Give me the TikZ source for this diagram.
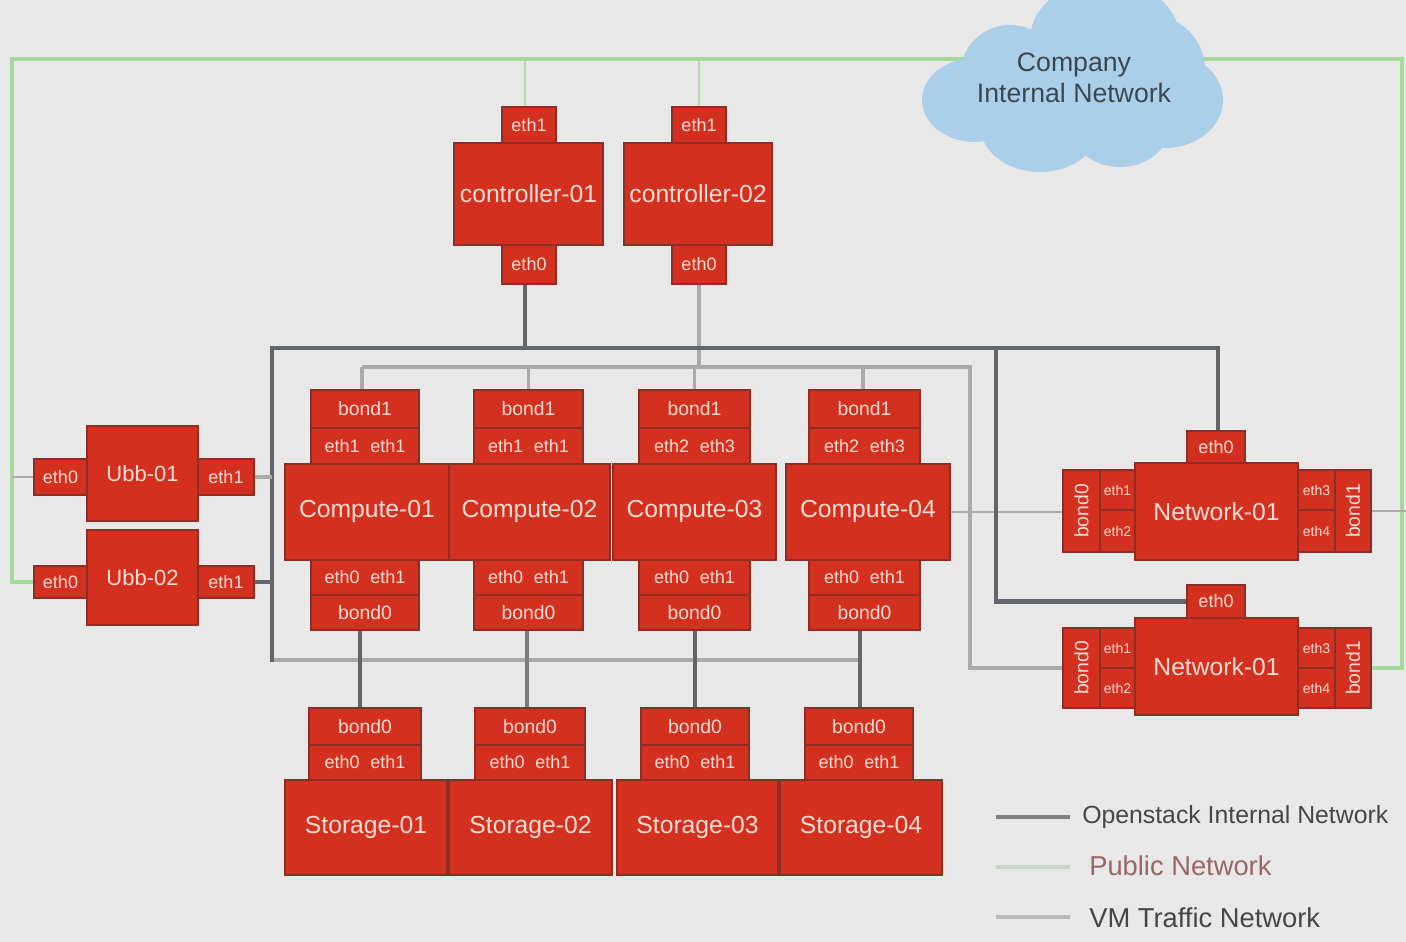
\documentclass[tikz,border=0pt]{standalone}
\usepackage{fontspec}
\setmainfont{Liberation Sans}
\definecolor{bgc}{HTML}{E8E8E8}
\definecolor{redf}{HTML}{D4301F}
\definecolor{redb}{HTML}{8C2E26}
\definecolor{txtc}{HTML}{FFDDD2}
\definecolor{intc}{HTML}{62666A}
\definecolor{vmc}{HTML}{A9ABAB}
\definecolor{pubc}{HTML}{A4D99A}
\definecolor{cloudc}{HTML}{ABCFE8}
\tikzset{
  redcell/.style={draw=redb,fill=redf,line width=2pt,inner sep=0pt,outer sep=0pt,text=txtc,align=center},
  mainfont/.style={font=\fontsize{18.5}{20}\selectfont},
  ubbfont/.style={font=\fontsize{16.5}{18}\selectfont},
  midfont/.style={font=\fontsize{14.5}{16}\selectfont},
  portfont/.style={font=\fontsize{13.5}{16}\selectfont},
  vertfont/.style={font=\fontsize{14.5}{16}\selectfont},
  tinyfont/.style={font=\fontsize{10.5}{12}\selectfont},
  internal/.style={draw=intc,line width=3.4pt},
  vmtraffic/.style={draw=vmc,line width=2.8pt},
  public/.style={draw=pubc,line width=3.4pt},
  legendtext/.style={anchor=west,inner sep=0pt,font=\fontsize{20.5}{22}\selectfont},
}
\newcommand{\rbox}[7][]{%
  \pgfmathsetmacro{\bw}{(#5-#3)*0.75}%
  \pgfmathsetmacro{\bh}{(#6-#4)*0.75}%
  \pgfmathsetmacro{\bx}{(#5+#3)/2}%
  \pgfmathsetmacro{\by}{(#6+#4)/2}%
  \node[redcell,minimum width=\bw pt,minimum height=\bh pt,#1] (#2) at (\bx,\by) {#7};%
}
\newcommand{\twoeth}[2]{#1\hspace{8pt}#2}
\newcommand{\raised}[1]{\raisebox{5pt}{#1}}
\begin{document}
\begin{tikzpicture}[x=0.75pt,y=-0.75pt]
\useasboundingbox (0,0) rectangle (1406,942);
\clip (0,0) rectangle (1406,942);
\fill[bgc] (0,0) rectangle (1406,942);

% reference coordinates of the buses and drops
\coordinate (pubTL) at (12,59);
\coordinate (pubTR) at (1402,59);
\coordinate (busTL) at (272,348);
\coordinate (busTR) at (1218,348);
\coordinate (busBL) at (272,660);
\coordinate (busBR) at (860,660);
\coordinate (busM) at (996,348);
\coordinate (vmTL) at (362,367);
\coordinate (vmTR) at (970,367);
\coordinate (edgeR) at (1406,510);
\coordinate (dropA) at (360,660);
\coordinate (dropB) at (527,660);
\coordinate (dropC) at (695,660);
\coordinate (dropD) at (860,660);
\coordinate (ctlX) at (525,200);
\coordinate (vmD) at (863,367);

% connectors are defined after nodes; nodes are drawn on a later layer
\pgfdeclarelayer{boxes}
\pgfsetlayers{main,boxes}
\begin{pgfonlayer}{boxes}
% controllers
\rbox[mainfont]{ctlA}{454}{143}{603}{245}{controller-01}
\rbox[portfont]{ctlAt}{502}{107}{556}{143}{eth1}
\rbox[portfont]{ctlAb}{502}{245}{556}{284}{eth0}
\rbox[mainfont]{ctlB}{624}{143}{772}{245}{controller-02}
\rbox[portfont]{ctlBt}{672}{107}{726}{143}{eth1}
\rbox[portfont]{ctlBb}{672}{245}{726}{284}{eth0}

% UBB
\rbox[ubbfont]{ubbA}{87}{426}{198}{521}{Ubb-01}
\rbox[portfont]{ubbAl}{34}{459}{87}{495}{eth0}
\rbox[portfont]{ubbAr}{198}{459}{254}{495}{eth1}
\rbox[ubbfont]{ubbB}{87}{530}{198}{625}{Ubb-02}
\rbox[portfont]{ubbBl}{34}{566}{87}{598}{eth0}
\rbox[portfont]{ubbBr}{198}{566}{254}{598}{eth1}

% compute
\rbox[midfont]{coAbt}{311}{390}{419}{428}{bond1}
\rbox[portfont]{coAe}{311}{428}{419}{464}{\twoeth{eth1}{eth1}}
\rbox[portfont]{coAg}{311}{560}{419}{595}{\twoeth{eth0}{eth1}}
\rbox[midfont]{coAbb}{311}{595}{419}{630}{bond0}
\rbox[mainfont]{coA}{285}{464}{449}{560}{\raised{Compute-01}}

\rbox[midfont]{coBbt}{474}{390}{583}{428}{bond1}
\rbox[portfont]{coBe}{474}{428}{583}{464}{\twoeth{eth1}{eth1}}
\rbox[portfont]{coBg}{474}{560}{583}{595}{\twoeth{eth0}{eth1}}
\rbox[midfont]{coBbb}{474}{595}{583}{630}{bond0}
\rbox[mainfont]{coB}{449}{464}{610}{560}{\raised{Compute-02}}

\rbox[midfont]{coCbt}{639}{390}{750}{428}{bond1}
\rbox[portfont]{coCe}{639}{428}{750}{464}{\twoeth{eth2}{eth3}}
\rbox[portfont]{coCg}{639}{560}{750}{595}{\twoeth{eth0}{eth1}}
\rbox[midfont]{coCbb}{639}{595}{750}{630}{bond0}
\rbox[mainfont]{coC}{613}{464}{776}{560}{\raised{Compute-03}}

\rbox[midfont]{coDbt}{809}{390}{920}{428}{bond1}
\rbox[portfont]{coDe}{809}{428}{920}{464}{\twoeth{eth2}{eth3}}
\rbox[portfont]{coDg}{809}{560}{920}{595}{\twoeth{eth0}{eth1}}
\rbox[midfont]{coDbb}{809}{595}{920}{630}{bond0}
\rbox[mainfont]{coD}{786}{464}{950}{560}{\raised{Compute-04}}

% storage
\rbox[midfont]{stAb}{309}{708}{421}{745}{bond0}
\rbox[portfont]{stAe}{309}{745}{421}{780}{\twoeth{eth0}{eth1}}
\rbox[mainfont]{stA}{285}{780}{447}{875}{Storage-01}
\rbox[midfont]{stBb}{475}{708}{585}{745}{bond0}
\rbox[portfont]{stBe}{475}{745}{585}{780}{\twoeth{eth0}{eth1}}
\rbox[mainfont]{stB}{449}{780}{612}{875}{Storage-02}
\rbox[midfont]{stCb}{641}{708}{749}{745}{bond0}
\rbox[portfont]{stCe}{641}{745}{749}{780}{\twoeth{eth0}{eth1}}
\rbox[mainfont]{stC}{617}{780}{778}{875}{Storage-03}
\rbox[midfont]{stDb}{805}{708}{913}{745}{bond0}
\rbox[portfont]{stDe}{805}{745}{913}{780}{\twoeth{eth0}{eth1}}
\rbox[mainfont]{stD}{780}{780}{942}{875}{Storage-04}

% network
\rbox[portfont]{nwAt}{1187}{431}{1245}{463}{eth0}
\rbox[tinyfont]{nwAa}{1100}{470}{1135}{510}{eth1}
\rbox[tinyfont]{nwAb}{1100}{510}{1135}{552}{eth2}
\rbox[vertfont]{nwAl}{1063}{470}{1100}{552}{\rotatebox{90}{bond0}}
\rbox[tinyfont]{nwAc}{1298}{470}{1335}{510}{eth3}
\rbox[tinyfont]{nwAd}{1298}{510}{1335}{552}{eth4}
\rbox[vertfont]{nwAr}{1335}{470}{1371}{552}{\rotatebox{90}{bond1}}
\rbox[mainfont]{nwA}{1135}{463}{1298}{560}{Network-01}

\rbox[portfont]{nwBt}{1187}{585}{1245}{618}{eth0}
\rbox[tinyfont]{nwBa}{1100}{628}{1135}{668}{eth1}
\rbox[tinyfont]{nwBb}{1100}{668}{1135}{708}{eth2}
\rbox[vertfont]{nwBl}{1063}{628}{1100}{708}{\rotatebox{90}{bond0}}
\rbox[tinyfont]{nwBc}{1298}{628}{1335}{668}{eth3}
\rbox[tinyfont]{nwBd}{1298}{668}{1335}{708}{eth4}
\rbox[vertfont]{nwBr}{1335}{628}{1371}{708}{\rotatebox{90}{bond1}}
\rbox[mainfont]{nwB}{1135}{618}{1298}{715}{Network-01}

% cloud
\fill[cloudc] (1105,40) ellipse (75 and 60);
\fill[cloudc] (1010,75) circle (50);
\fill[cloudc] (975,100) ellipse (53 and 42);
\fill[cloudc] (1040,125) ellipse (60 and 47);
\fill[cloudc] (1120,125) ellipse (50 and 42);
\fill[cloudc] (1165,100) ellipse (58 and 48);
\fill[cloudc] (1150,70) circle (55);
\node[font=\fontsize{20}{23}\selectfont,text=black!65!cloudc,align=center] (cloud) at (1074,78) {Company\\Internal Network};
\end{pgfonlayer}

% public network
\draw[public] (ubbBl.west) -- (ubbBl.west -| pubTL) -- (pubTL) -- (pubTR) |- (nwBr.east);
\draw[public,line width=2pt,opacity=.75] (ctlX |- ctlAt.north) -- (ctlX |- pubTL);
\draw[public,line width=2pt,opacity=.75] (ctlBt.north) -- (ctlBt.north |- pubTL);
\draw[vmtraffic,line width=2pt] (ubbAl.west) -- (ubbAl.west -| pubTL);
% vm traffic
\draw[vmtraffic] (vmTL) -- (vmTR) |- (nwBl.west);
\draw[vmtraffic] (vmTL |- coAbt.north) -- (vmTL);
\draw[vmtraffic] (coBbt.north) -- (coBbt.north |- vmTL);
\draw[vmtraffic] (coCbt.north) -- (coCbt.north |- vmTL);
\draw[vmtraffic] (vmD |- coDbt.north) -- (vmD);
\draw[vmtraffic] (ctlBb.south) -- (ctlBb.south |- vmTL);
\draw[vmtraffic,line width=2pt] (coD.east) -- (coD.east -| nwAl.west);
\draw[vmtraffic,line width=2pt] (nwAr.east) -- (nwAr.east -| edgeR);
% internal
\draw[internal,draw=vmc] (busBL) -- (busBR);
\draw[internal,line cap=rect] (busTR) -- (busTL) -- (busBL);
\draw[internal,line width=2.8pt] (busTR) -- (busTR |- nwAt.north);
\draw[internal] (ctlX |- ctlAb.south) -- (ctlX |- busTL);
\draw[internal] (busM) |- (nwBt.west);
\draw[internal] (ubbBr.east) -- (ubbBr.east -| busTL);
\draw[vmtraffic] (ubbAr.east) -- (ubbAr.east -| busTL);
\draw[internal] (dropA |- coAbb.south) -- (dropA |- stAb.north);
\draw[internal,draw=intc!85] (dropB |- coBbb.south) -- (dropB |- stBb.north);
\draw[internal] (dropC |- coCbb.south) -- (dropC |- stCb.north);
\draw[internal] (dropD |- coDbb.south) -- (dropD |- stDb.north);

% legend
\coordinate (lgA) at (996,817); \coordinate (lgB) at (996,867); \coordinate (lgC) at (996,917);
\node[legendtext,text=black!72,font=\fontsize{18.6}{22}\selectfont] (lgAt) at (1082,817) {Openstack Internal Network};
\node[legendtext,text=red!35!black!60] (lgBt) at (1089,866) {Public Network};
\node[legendtext,text=black!72] (lgCt) at (1089,918) {VM Traffic Network};
\draw[internal,draw=black!50] (lgA) -- ++(74,0);
\draw[public,draw=green!25!black!22] (lgB) -- ++(74,0);
\draw[vmtraffic,draw=black!28] (lgC) -- ++(74,0);
\end{tikzpicture}
\end{document}
